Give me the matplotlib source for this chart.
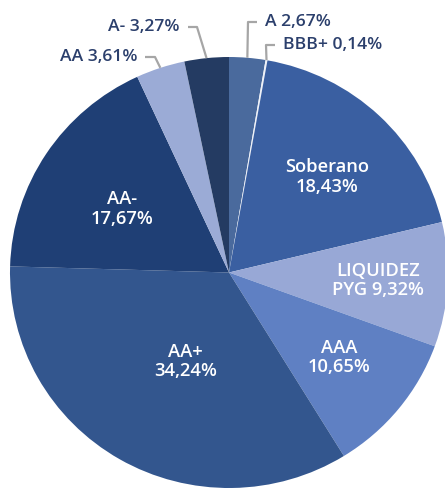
import numpy as np
import matplotlib
matplotlib.use('Agg')
import matplotlib.pyplot as plt

# data (clockwise from the top)
labels = ['A', 'BBB+', 'Soberano', 'LIQUIDEZ\nPYG', 'AAA', 'AA+', 'AA-', 'AA', 'A-']
values = [2.67, 0.14, 18.43, 9.32, 10.65, 34.24, 17.67, 3.61, 3.27]
colors = ['#4a6a9d', '#eef1f8', '#3a5fa1', '#98a8d6', '#5f80c3',
          '#33568e', '#1f3f75', '#9babd6', '#243b62']

# inside labels: (radius factor, clockwise shift in degrees)
inside = {2: (0.63, 2.0), 3: (0.68, 0.0), 4: (0.64, -1.0), 5: (0.46, -4.2), 6: (0.57, -2.4)}
# outside labels: elbow and end of leader line in pixels, text alignment
outside = {0: ((248, 22), (257, 22), 'left'),
           1: ((266, 45), (275, 45), 'left'),
           7: ((155, 57), (145, 57), 'right'),
           8: ((197, 27), (188, 27), 'right')}

W, H = 445, 490
sx = 219 / 215.5          # reference pie is a touch wider than tall
cx, cy, R = 229, 272.5, 215.5
navy = '#2b3f6c'

plt.rcParams['font.family'] = ['Open Sans', 'DejaVu Sans']


def d(px, py):
    # pixel (top-left origin) -> data coords
    return px / sx, H - py


fig = plt.figure(figsize=(W / 100, H / 100), dpi=100)
ax = fig.add_axes([0, 0, 1, 1])

wedges, _ = ax.pie(values, colors=colors, startangle=90, counterclock=False,
                   center=d(cx, cy), radius=R, frame=True,
                   wedgeprops=dict(linewidth=0))
ax.set_aspect('auto')
ax.set_xlim(0, W / sx)
ax.set_ylim(0, H)
ax.axis('off')


def fmt(v):
    return f'{v:.2f}'.replace('.', ',') + '%'


def edge(theta, rf=1.0):
    a = np.deg2rad(theta)
    return cx + rf * R * sx * np.cos(a), cy - rf * R * np.sin(a)


for i, w in enumerate(wedges):
    mid = (w.theta1 + w.theta2) / 2
    if i in inside:
        rf, shift = inside[i]
        px, py = edge(mid - shift, rf)
        name = labels[i]
        if '\n' in name:
            a, b = name.split('\n')
            txt = a + '\n' + b + ' ' + fmt(values[i])
        else:
            txt = name + '\n' + fmt(values[i])
        ax.text(*d(px, py), txt, color='white', fontsize=13.2, ha='center',
                va='center', linespacing=1.1, fontweight='semibold')
    else:
        elbow, end, ha = outside[i]
        ex, ey = edge(mid)
        xs = [ex, elbow[0], end[0]]
        ys = [ey, elbow[1], end[1]]
        pts = [d(x, y) for x, y in zip(xs, ys)]
        ax.plot([p[0] for p in pts], [p[1] for p in pts],
                color='#a6a6a6', lw=1.6, solid_capstyle='butt', zorder=3)
        tx = end[0] + (8 if ha == 'left' else -8)
        ax.text(*d(tx, end[1]), f'{labels[i]} {fmt(values[i])}', color=navy,
                fontsize=12.6, ha=ha, va='center', fontweight='semibold')

fig.savefig('out.png', dpi=100)
